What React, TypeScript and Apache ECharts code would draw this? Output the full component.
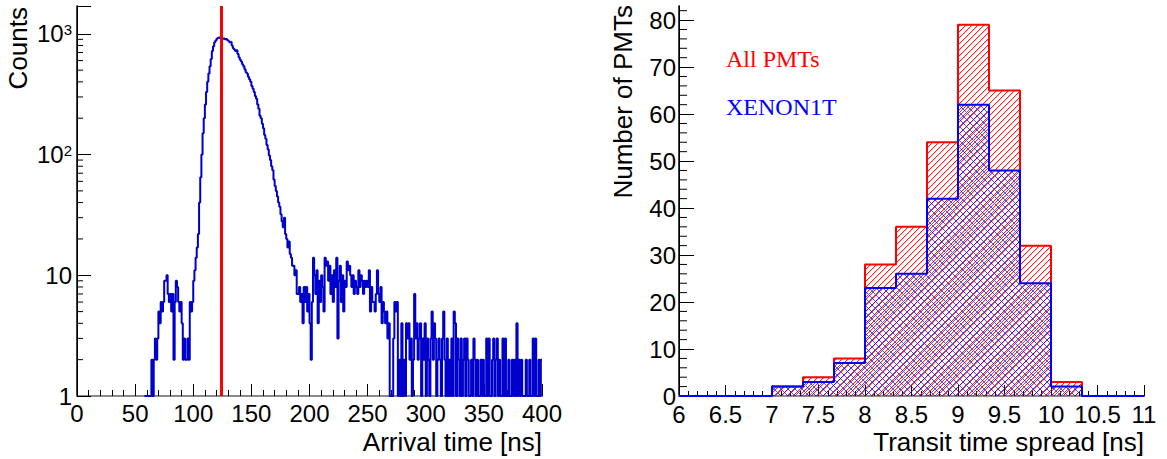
import { useEffect, useRef } from 'react';
import * as echarts from 'echarts';

// ---------- Left panel: arrival time histogram (1 ns bins) ----------
const arrivalBinStart = 58; // ns, first drawn bin
const arrivalBinWidth = 1;
const arrivalCounts = [
  1, 1, 1, 1, 1, 1, 2, 1, 2, 3,
  2, 3, 5, 4, 6, 5, 6, 9, 9, 10,
  7, 6, 7, 5, 7, 2, 6, 9, 8, 6,
  5, 6, 4, 2, 3, 2, 2, 3, 2, 6,
  5, 6, 9, 11, 14, 17, 22, 40, 65, 100,
  150, 200, 260, 330, 400, 470, 540, 620, 720, 790,
  850, 880, 910, 930, 920, 940, 930, 910, 920, 900,
  910, 890, 870, 850, 860, 800, 760, 740, 720, 730,
  680, 640, 610, 590, 560, 540, 510, 480, 470, 440,
  420, 400, 370, 350, 330, 305, 290, 260, 240, 210,
  200, 180, 165, 145, 135, 120, 110, 98, 90, 80,
  74, 62, 55, 50, 45, 40, 37, 32, 28, 25,
  30, 22, 20, 17, 19, 15, 14, 12, 12, 10,
  11, 7, 7, 8, 6, 7, 4, 8, 6, 8,
  5, 7, 4, 2, 6, 14, 10, 7, 11, 4,
  9, 6, 10, 8, 5, 14, 12, 13, 9, 12,
  7, 10, 6, 11, 8, 14, 3, 9, 12, 6,
  10, 5, 9, 8, 13, 11, 12, 10, 8, 10,
  7, 9, 8, 7, 11, 8, 10, 9, 7, 9,
  8, 9, 8, 11, 5, 8, 6, 6, 5, 7,
  11, 7, 6, 8, 4, 6, 5, 4, 5, 3,
  4, 1, 1, 1, 3, 6, 5, 6, 1, 2,
  1, 4, 1, 2, 1, 4, 3, 4, 2, 3,
  1, 2, 7, 3, 4, 2, 3, 4, 1, 3,
  2, 4, 1, 3, 2, 1, 3, 5, 2, 4,
  3, 1, 2, 3, 2, 1, 3, 5, 2, 1,
  3, 1, 2, 1, 3, 1, 5, 4, 1, 3,
  2, 1, 3, 1, 2, 3, 1, 3, 2, 1,
  1, 2, 1, 3, 2, 1, 2, 1, 1, 2,
  1, 2, 1, 1, 3, 1, 3, 1, 1, 2,
  3, 1, 2, 3, 1, 2, 1, 1, 3, 1,
  3, 1, 1, 2, 1, 1, 2, 1, 2, 1,
  4, 1, 2, 1, 2, 1, 1, 1, 2, 1,
  1, 2, 1, 1, 3, 1, 3, 1, 1, 2,
  1, 2,
];
const arrivalMarker = 124; // ns, red vertical line
const arrivalXMin = 0;
const arrivalXMax = 400;
const countsMin = 1;
const countsMax = 1700;
const countsMinorTicks = [2, 3, 4, 5, 6, 7, 8, 9, 20, 30, 40, 50, 60, 70, 80, 90, 200, 300, 400, 500, 600, 700, 800, 900];

// ---------- Right panel: transit time spread histogram ----------
const ttsBinStart = 6;
const ttsBinWidth = 1 / 3;
const allPMTs = [0, 0, 0, 2, 4, 8, 28, 36, 54, 79, 65, 32, 3, 0, 0];
const xenon1t = [0, 0, 0, 2, 3, 7, 23, 26, 42, 62, 48, 24, 2, 0, 0];
const ttsXMin = 6;
const ttsXMax = 11;
const pmtYMax = 83;
const pmtMajorTicks = [0, 10, 20, 30, 40, 50, 60, 70, 80];
const pmtMinorTicks = [2, 4, 6, 8, 12, 14, 16, 18, 22, 24, 26, 28, 32, 34, 36, 38, 42, 44, 46, 48, 52, 54, 56, 58, 62, 64, 66, 68, 72, 74, 76, 78, 82];

const SANS = '"Liberation Sans", Arial, sans-serif';
const SERIF = '"Liberation Serif", "Times New Roman", serif';

function stepData(start: number, width: number, counts: number[]) {
  const pts: number[][] = counts.map((v, i) => [start + i * width, v]);
  pts.push([start + counts.length * width, counts[counts.length - 1]]);
  return pts;
}

function hatchPattern(rgb: number[], period: number, dirs: string[], main: number, side: number) {
  const c = document.createElement('canvas');
  c.width = period;
  c.height = period;
  const ctx = c.getContext('2d')!;
  const img = ctx.createImageData(period, period);
  for (let y = 0; y < period; y++) {
    for (let x = 0; x < period; x++) {
      let a = 0;
      for (const d of dirs) {
        const k = d === 'fwd' ? (x + y) % period : (((x - y) % period) + period) % period;
        if (k === 0) a = Math.max(a, main);
        else if (k === 1) a = Math.max(a, side);
      }
      const idx = (y * period + x) * 4;
      img.data[idx] = rgb[0];
      img.data[idx + 1] = rgb[1];
      img.data[idx + 2] = rgb[2];
      img.data[idx + 3] = a;
    }
  }
  ctx.putImageData(img, 0, 0);
  return { image: c, repeat: 'repeat', imageWidth: period, imageHeight: period };
}

function tickRenderer(len: number) {
  return (params: any, api: any) => {
    const p = api.coord([api.value(0), api.value(1)]);
    return {
      type: 'line',
      shape: { x1: p[0], y1: p[1], x2: p[0] + len, y2: p[1] },
      style: { stroke: '#000', lineWidth: 1 },
    };
  };
}

const frameAxis = (gridIndex: number, position: string, color: string, width: number) => ({
  type: 'value',
  gridIndex,
  position,
  min: 0,
  max: 1,
  axisLine: { show: true, lineStyle: { color, width } },
  axisTick: { show: false },
  axisLabel: { show: false },
  splitLine: { show: false },
});

export default function App() {
  const ref = useRef<HTMLDivElement>(null);
  useEffect(() => {
    if (!ref.current) return;
    const chart = echarts.init(ref.current, undefined, { renderer: 'svg' });
    const labelBase = { color: '#000', fontSize: 24, fontFamily: SANS };
    const redHatch = hatchPattern([255, 0, 0], 6, ['fwd'], 220, 60);
    const blueHatch = hatchPattern([0, 0, 255], 7, ['fwd', 'back'], 170, 0);

    const option: any = {
      animation: false,
      backgroundColor: '#fff',
      grid: [
        { left: 77, top: 6, width: 465, height: 390 },
        { left: 679, top: 6, width: 465, height: 390 },
      ],
      xAxis: [
        {
          type: 'value',
          gridIndex: 0,
          min: arrivalXMin,
          max: arrivalXMax,
          interval: 50,
          axisLine: { show: true, onZero: false, lineStyle: { color: '#000', width: 1 } },
          axisTick: { show: true, inside: true, length: 12, lineStyle: { color: '#000' } },
          minorTick: { show: true, splitNumber: 5, length: 6, lineStyle: { color: '#000' } },
          axisLabel: { ...labelBase, margin: 5 },
          splitLine: { show: false },
        },
        frameAxis(0, 'top', '#8a8a8a', 2),
        {
          type: 'value',
          gridIndex: 1,
          min: ttsXMin,
          max: ttsXMax,
          interval: 0.5,
          axisLine: { show: true, onZero: false, lineStyle: { color: '#000', width: 1 } },
          axisTick: { show: true, inside: true, length: 11, lineStyle: { color: '#000' } },
          minorTick: { show: true, splitNumber: 5, length: 5, lineStyle: { color: '#000' } },
          axisLabel: { ...labelBase, margin: 6 },
          splitLine: { show: false },
        },
        frameAxis(1, 'top', '#8a8a8a', 2),
      ],
      yAxis: [
        {
          type: 'log',
          logBase: 10,
          gridIndex: 0,
          min: countsMin,
          max: countsMax,
          axisLine: { show: true, onZero: false, lineStyle: { color: '#000', width: 1 } },
          axisTick: { show: true, inside: true, length: 14, lineStyle: { color: '#000' } },
          axisLabel: {
            ...labelBase,
            margin: 5,
            formatter: (v: number) => {
              const e = Math.round(Math.log10(v));
              if (Math.abs(v - Math.pow(10, e)) > 1e-6 * v) return '';
              if (e === 0) return '1';
              if (e === 1) return '10';
              return '{b|10}{s|' + e + '}';
            },
            rich: {
              b: { fontSize: 24, fontFamily: SANS, color: '#000' },
              s: { fontSize: 15, fontFamily: SANS, color: '#000', padding: [0, 0, 8, 0] },
            },
          },
          splitLine: { show: false },
        },
        frameAxis(0, 'right', '#000', 1.5),
        {
          type: 'value',
          gridIndex: 1,
          min: 0,
          max: pmtYMax,
          interval: 10,
          axisLine: { show: true, onZero: false, lineStyle: { color: '#000', width: 1 } },
          axisTick: { show: true, inside: true, length: 15, customValues: pmtMajorTicks, lineStyle: { color: '#000' } },
          axisLabel: {
            ...labelBase,
            margin: 3,
            customValues: pmtMajorTicks,
            formatter: (v: number) => (v % 10 === 0 ? String(v) : ''),
          },
          splitLine: { show: false },
        },
        frameAxis(1, 'right', '#000', 1.5),
      ],
      series: [
        {
          type: 'line',
          xAxisIndex: 0,
          yAxisIndex: 0,
          step: 'end',
          symbol: 'none',
          data: stepData(arrivalBinStart, arrivalBinWidth, arrivalCounts),
          lineStyle: { color: '#0000cc', width: 2 },
          z: 3,
          markLine: {
            silent: true,
            symbol: ['none', 'none'],
            label: { show: false },
            lineStyle: { color: '#ff0000', width: 3, type: 'solid' },
            data: [{ xAxis: arrivalMarker }],
            z: 4,
          },
        },
        {
          type: 'custom',
          xAxisIndex: 0,
          yAxisIndex: 0,
          data: countsMinorTicks.map((v) => [arrivalXMin, v]),
          renderItem: tickRenderer(6),
          silent: true,
          z: 1,
        },
        {
          type: 'custom',
          xAxisIndex: 2,
          yAxisIndex: 2,
          data: pmtMinorTicks.map((v) => [ttsXMin, v]),
          renderItem: tickRenderer(8),
          silent: true,
          z: 1,
        },
        {
          name: 'All PMTs',
          type: 'line',
          xAxisIndex: 2,
          yAxisIndex: 2,
          step: 'end',
          symbol: 'none',
          data: stepData(ttsBinStart, ttsBinWidth, allPMTs),
          lineStyle: { color: '#ff0000', width: 2 },
          areaStyle: { color: redHatch, opacity: 1 },
          z: 2,
        },
        {
          name: 'XENON1T',
          type: 'line',
          xAxisIndex: 2,
          yAxisIndex: 2,
          step: 'end',
          symbol: 'none',
          data: stepData(ttsBinStart, ttsBinWidth, xenon1t),
          lineStyle: { color: '#0000ff', width: 2 },
          areaStyle: { color: blueHatch, opacity: 1 },
          z: 3,
        },
      ],
      graphic: [
        {
          type: 'text',
          x: 18,
          y: 7,
          rotation: Math.PI / 2,
          style: { text: 'Counts', fill: '#000', fontSize: 26, fontFamily: SANS, textAlign: 'right', textVerticalAlign: 'middle', align: 'right', verticalAlign: 'middle' },
        },
        {
          type: 'text',
          x: 542,
          y: 442,
          style: { text: 'Arrival time [ns]', fill: '#000', fontSize: 26, fontFamily: SANS, textAlign: 'right', textVerticalAlign: 'middle', align: 'right', verticalAlign: 'middle' },
        },
        {
          type: 'text',
          x: 623,
          y: 5,
          rotation: Math.PI / 2,
          style: { text: 'Number of PMTs', fill: '#000', fontSize: 26, fontFamily: SANS, textAlign: 'right', textVerticalAlign: 'middle', align: 'right', verticalAlign: 'middle' },
        },
        {
          type: 'text',
          x: 1144,
          y: 442,
          style: { text: 'Transit time spread [ns]', fill: '#000', fontSize: 26, fontFamily: SANS, textAlign: 'right', textVerticalAlign: 'middle', align: 'right', verticalAlign: 'middle' },
        },
        {
          type: 'text',
          x: 726,
          y: 59,
          style: { text: 'All PMTs', fill: '#ff0000', fontSize: 24, fontFamily: SERIF, textAlign: 'left', textVerticalAlign: 'middle', align: 'left', verticalAlign: 'middle' },
        },
        {
          type: 'text',
          x: 726,
          y: 107,
          style: { text: 'XENON1T', fill: '#0000ff', fontSize: 24, fontFamily: SERIF, textAlign: 'left', textVerticalAlign: 'middle', align: 'left', verticalAlign: 'middle' },
        },
      ],
    };
    chart.setOption(option);
    return () => chart.dispose();
  }, []);
  return (
    <div
      ref={ref}
      style={{ position: 'fixed', left: 0, top: 0, width: 1167, height: 459, background: '#fff' }}
    />
  );
}
